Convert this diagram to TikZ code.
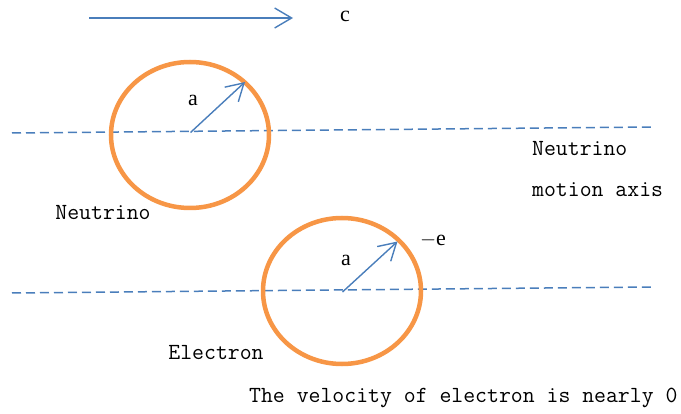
\documentclass[tikz,border=0pt]{standalone}
\usepackage{fontspec}
\setmainfont{Liberation Serif}
\usetikzlibrary{arrows.meta,shapes.geometric}
\definecolor{axisblue}{HTML}{4A7EBB}
\definecolor{ringorange}{HTML}{F79646}

\begin{document}
\begin{tikzpicture}[x=1pt, y=-1pt,
	every node/.style={inner sep=0pt},
	axis/.style={draw=axisblue, line width=1.5pt, dash pattern=on 9pt off 5pt},
	vec/.style={draw=axisblue, line width=1.4pt, -{Straight Barb[length=17pt, width=20pt, line width=1.4pt]}},
	particle/.style={draw=ringorange, line width=4.5pt, ellipse, minimum width=158pt, minimum height=146pt},
	lbl/.style={font=\ttfamily\fontsize{23.1}{26}\selectfont},
	sym/.style={font=\fontsize{22}{26}\selectfont}]
	\useasboundingbox (0,0) rectangle (681,414);
	% speed of light
	\coordinate (c0) at (89,18);
	\coordinate (c1) at (293,18);
	\draw[vec] (c0) -- (c1);
	\node[sym] (clab) at (345,16) {c};
	% axes
	\coordinate (ax1a) at (12,133);
	\coordinate (ax1b) at (652,127);
	\coordinate (ax2a) at (12,293);
	\coordinate (ax2b) at (652,287);
	\draw[axis] (ax1a) -- (ax1b);
	\draw[axis] (ax2a) -- (ax2b);
	% neutrino
	\node[particle] (nu) at (190,135) {};
	\coordinate (nuc) at (190.5,132.5);
	\coordinate (nutip) at (245,82);
	\draw[vec] (nuc) -- (nutip);
	\node[sym] (nua) at (193,100) {a};
	\node[lbl] (nulab) at (103,213) {Neutrino};
	% electron
	\node[particle] (el) at (342,291) {};
	\coordinate (elc) at (342.5,292);
	\coordinate (eltip) at (397.5,241.5);
	\draw[vec] (elc) -- (eltip);
	\node[sym] (ela) at (346,260) {a};
	\node[sym] (elq) at (433,240) {$-$e};
	\node[lbl] (ellab) at (216,353) {Electron};
	% captions
	\node[lbl, anchor=west] (axlab1) at (532,149) {Neutrino};
	\node[lbl, anchor=west] (axlab2) at (532,190) {motion axis};
	\node[lbl, anchor=west] (vlab) at (249,398) {The velocity of electron is nearly 0};
\end{tikzpicture}
\end{document}
